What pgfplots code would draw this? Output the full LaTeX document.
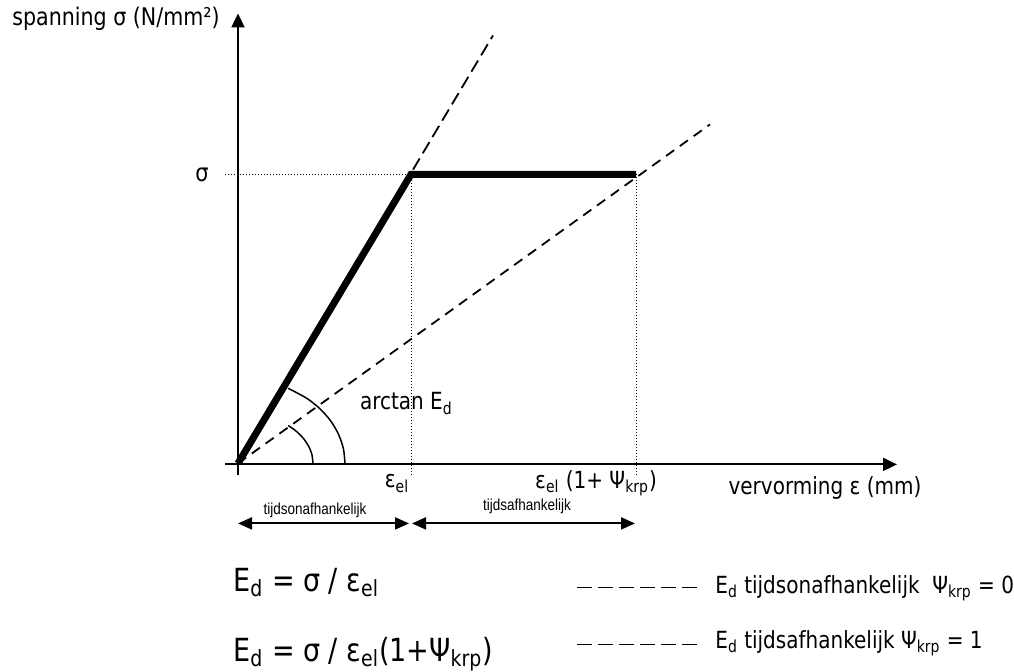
\documentclass[border=0pt]{standalone}
\usepackage{fontspec}
\setmainfont{DejaVu Sans}
\newfontfamily\arial{Liberation Sans}
\usepackage{graphicx}
\usepackage{pgfplots}
\pgfplotsset{compat=1.18}
\usetikzlibrary{arrows.meta}
\newcommand\ST[1]{\scalebox{1}[1.18]{#1}}
\newcommand\fs[1]{\fontsize{#1}{#1}\selectfont}
\begin{document}
\begin{tikzpicture}
\begin{axis}[hide axis, scale only axis, width=507pt, height=334pt,
  xmin=0, xmax=1014, ymin=0, ymax=668, clip=false]
\path (axis cs:0,0) rectangle (axis cs:1014,668);
% axes
\addplot[black, line width=1pt, -{Triangle[length=7pt,width=6.5pt]}] coordinates {(238,196) (238,658)};
\addplot[black, line width=1pt, -{Triangle[length=7pt,width=6.5pt]}] coordinates {(225,207) (897,207)};
% dashed lines
\addplot[black, line width=0.9pt, dash pattern=on 6.5pt off 3pt] coordinates {(238,208) (493,636)};
\addplot[black, line width=0.9pt, dash pattern=on 5pt off 3.5pt] coordinates {(238,208) (710,547)};
% dotted guides
\addplot[black, line width=0.5pt, dash pattern=on 0.5pt off 1pt] coordinates {(225,497) (411,497)};
\addplot[black, line width=0.5pt, dash pattern=on 0.5pt off 1pt] coordinates {(411,497) (411,194)};
\addplot[black, line width=0.5pt, dash pattern=on 0.5pt off 1pt] coordinates {(636,497) (636,195)};
% thick bilinear line
\addplot[black, line width=3.5pt, line join=miter] coordinates {(238,208) (411,497) (636,497)};
% arcs
\addplot[black, line width=0.75pt, smooth] coordinates {(345,208) (343.4,222.8) (338.5,237.1) (330.7,250.5) (320,262.6) (306.8,273.1) (288.2,283.1)};
\addplot[black, line width=0.75pt, smooth] coordinates {(313,208) (311.9,216.9) (308.5,225.4) (303,233.5) (295.5,240.8) (288.2,245.9)};
% double arrows
\addplot[black, line width=1pt, {Triangle[length=7pt,width=6pt]}-{Triangle[length=7pt,width=6pt]}] coordinates {(238,148) (409,148)};
\addplot[black, line width=1pt, {Triangle[length=7pt,width=6pt]}-{Triangle[length=7pt,width=6pt]}] coordinates {(412,148) (635,148)};
% legend sample dashes
\addplot[black, line width=0.8pt, dash pattern=on 7.5pt off 3pt] coordinates {(577,84) (697,84)};
\addplot[black, line width=0.8pt, dash pattern=on 7.5pt off 3pt] coordinates {(577,27) (697,27)};
% labels
\node[font=\fs{10.3}] at (axis cs:116,653) {\ST{spanning σ (N/mm²)}};
\node[font=\fs{10.5}] at (axis cs:202,497) {\ST{σ}};
\node[font=\fs{10}, anchor=west] at (axis cs:353,268) {\ST{arctan E\textsubscript{d}}};
\node[font=\fs{10}] at (axis cs:397,188) {\ST{ε\textsubscript{el}}};
\node[font=\fs{10}] at (axis cs:596,188) {\ST{ε\textsubscript{el} (1+ Ψ\textsubscript{krp})}};
\node[font=\fs{10}] at (axis cs:825,183) {\ST{vervorming ε (mm)}};
\node[font=\arial\fs{6.75}] at (axis cs:315,161) {\ST{tijdsonafhankelijk}};
\node[font=\arial\fs{6.75}] at (axis cs:527,165) {\ST{tijdsafhankelijk}};
\node[font=\fs{13.5}, anchor=base west, inner sep=0pt] at (axis cs:233,80) {\ST{E\textsubscript{d} = σ / ε\textsubscript{el}}};
\node[font=\fs{13.5}, anchor=base west, inner sep=0pt] at (axis cs:233,10) {\ST{E\textsubscript{d} = σ / ε\textsubscript{el}(1+Ψ\textsubscript{krp})}};
\node[font=\fs{10}, anchor=base west, inner sep=0pt] at (axis cs:715,78) {\ST{E\textsubscript{d} tijdsonafhankelijk\ \ Ψ\textsubscript{krp} = 0}};
\node[font=\fs{10}, anchor=base west, inner sep=0pt] at (axis cs:715,23) {\ST{E\textsubscript{d} tijdsafhankelijk Ψ\textsubscript{krp} = 1}};
\end{axis}
\end{tikzpicture}
\end{document}
